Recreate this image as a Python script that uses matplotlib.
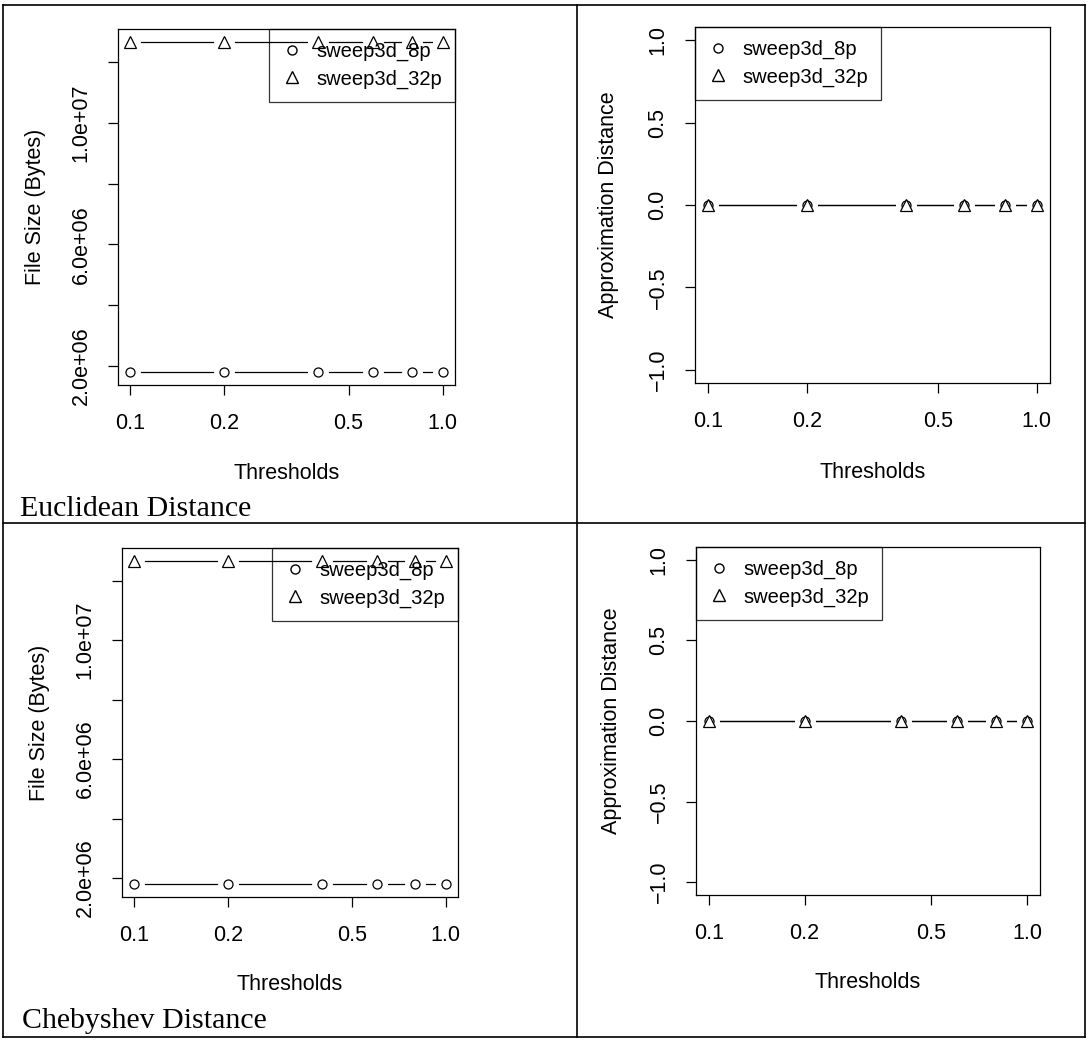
import matplotlib.pyplot as plt
from matplotlib.lines import Line2D
import numpy as np

plt.rcParams['font.family'] = ['Liberation Sans', 'DejaVu Sans']

# data
thresholds = [0.1, 0.2, 0.4, 0.6, 0.8, 1.0]
size_8p = [1.80e6, 1.80e6, 1.80e6, 1.80e6, 1.80e6, 1.80e6]
size_32p = [1.266e7, 1.266e7, 1.266e7, 1.266e7, 1.266e7, 1.266e7]
dist_8p = [0.0, 0.0, 0.0, 0.0, 0.0, 0.0]
dist_32p = [0.0, 0.0, 0.0, 0.0, 0.0, 0.0]
series_names = ['sweep3d_8p', 'sweep3d_32p']
row_titles = ['Euclidean Distance', 'Chebyshev Distance']

x_ticks = [0.1, 0.2, 0.5, 1.0]
x_ticklabels = ['0.1', '0.2', '0.5', '1.0']
size_ticks = [2e6, 4e6, 6e6, 8e6, 1e7, 1.2e7]
size_ticklabels = ['2.0e+06', '', '6.0e+06', '', '1.0e+07', '']
dist_ticks = [-1.0, -0.5, 0.0, 0.5, 1.0]
dist_ticklabels = ['\u22121.0', '\u22120.5', '0.0', '0.5', '1.0']

FS = 15.5
W, H = 1088, 1042
fig = plt.figure(figsize=(W / 100, H / 100), dpi=100)


def px_rect(left, top, right, bottom):
    return [left / W, 1 - bottom / H, (right - left) / W, (bottom - top) / H]


def r_range(vals, log=False):
    v = np.log10(vals) if log else np.asarray(vals, dtype=float)
    lo, hi = v.min(), v.max()
    if lo == hi:
        lo, hi = lo - 1, hi + 1
    pad = 0.04 * (hi - lo)
    lo, hi = lo - pad, hi + pad
    return (10 ** lo, 10 ** hi) if log else (lo, hi)


def draw_panel(ax, y8, y32, ylabel, yticks, yticklabels, legend_loc):
    # R type="b": lines broken around points
    for y in (y8, y32):
        ax.plot(thresholds, y, '-', color='black', lw=0.9, zorder=1)
        ax.plot(thresholds, y, 'o', ms=15, mfc='white', mec='none', zorder=2)
    ax.plot(thresholds, y8, 'o', ms=6.5, mfc='none', mec='black', mew=0.9, zorder=3)
    ax.plot(thresholds, y32, '^', ms=8.5, mfc='white', mec='black', mew=0.9, zorder=4)

    ax.set_xscale('log')
    ax.set_xlim(r_range(thresholds, log=True))
    ax.set_ylim(r_range(list(y8) + list(y32)))
    ax.set_xticks(x_ticks)
    ax.set_xticklabels(x_ticklabels)
    ax.minorticks_off()
    ax.set_yticks(yticks)
    ax.set_yticklabels(yticklabels, rotation=90, va='center')
    ax.tick_params(direction='out', length=7, width=0.9, pad=12, labelsize=FS)
    ax.tick_params(axis='x', pad=13)

    ax.set_xlabel('Thresholds', fontsize=FS, va='center')
    ax.set_ylabel(ylabel, fontsize=FS, va='center')
    ax.xaxis.set_label_coords(0.5, -0.25)
    ax.yaxis.set_label_coords(-0.245, 0.5)
    for s in ax.spines.values():
        s.set_linewidth(0.9)

    handles = [Line2D([], [], ls='none', marker='o', ms=6.5, mfc='none', mec='black'),
               Line2D([], [], ls='none', marker='^', ms=8.5, mfc='none', mec='black')]
    leg = ax.legend(handles, series_names, loc=legend_loc, fontsize=14.5,
                    frameon=True, fancybox=False, borderaxespad=0, borderpad=0.65,
                    handlelength=1.0, handletextpad=0.7, labelspacing=0.4)
    leg.get_frame().set_facecolor('none')
    leg.get_frame().set_edgecolor('black')
    leg.get_frame().set_linewidth(0.9)


axes = [
    (px_rect(118, 29, 455, 385), size_8p, size_32p, 'File Size (Bytes)', size_ticks, size_ticklabels, 'upper right'),
    (px_rect(695, 27, 1050, 383), dist_8p, dist_32p, 'Approximation Distance', dist_ticks, dist_ticklabels, 'upper left'),
    (px_rect(122, 548, 458, 897), size_8p, size_32p, 'File Size (Bytes)', size_ticks, size_ticklabels, 'upper right'),
    (px_rect(696, 547, 1040, 895), dist_8p, dist_32p, 'Approximation Distance', dist_ticks, dist_ticklabels, 'upper left'),
]
for rect, y8, y32, yl, yt, ytl, loc in axes:
    ax = fig.add_axes(rect)
    draw_panel(ax, y8, y32, yl, yt, ytl, loc)

# table frame around the panels
def px_line(x0, y0, x1, y1):
    fig.add_artist(Line2D([x0 / W, x1 / W], [1 - y0 / H, 1 - y1 / H],
                          color='black', lw=1.2))

px_line(3, 5, 1085, 5)
px_line(3, 523, 1085, 523)
px_line(3, 1037, 1085, 1037)
px_line(3, 5, 3, 1037)
px_line(577, 5, 577, 1037)
px_line(1085, 5, 1085, 1037)

fig.text(20 / W, 1 - 516 / H, row_titles[0], family=['Liberation Serif', 'DejaVu Serif'],
         fontsize=21.5, ha='left', va='baseline')
fig.text(22 / W, 1 - 1028 / H, row_titles[1], family=['Liberation Serif', 'DejaVu Serif'],
         fontsize=21.5, ha='left', va='baseline')

fig.savefig('out.png', dpi=100)
